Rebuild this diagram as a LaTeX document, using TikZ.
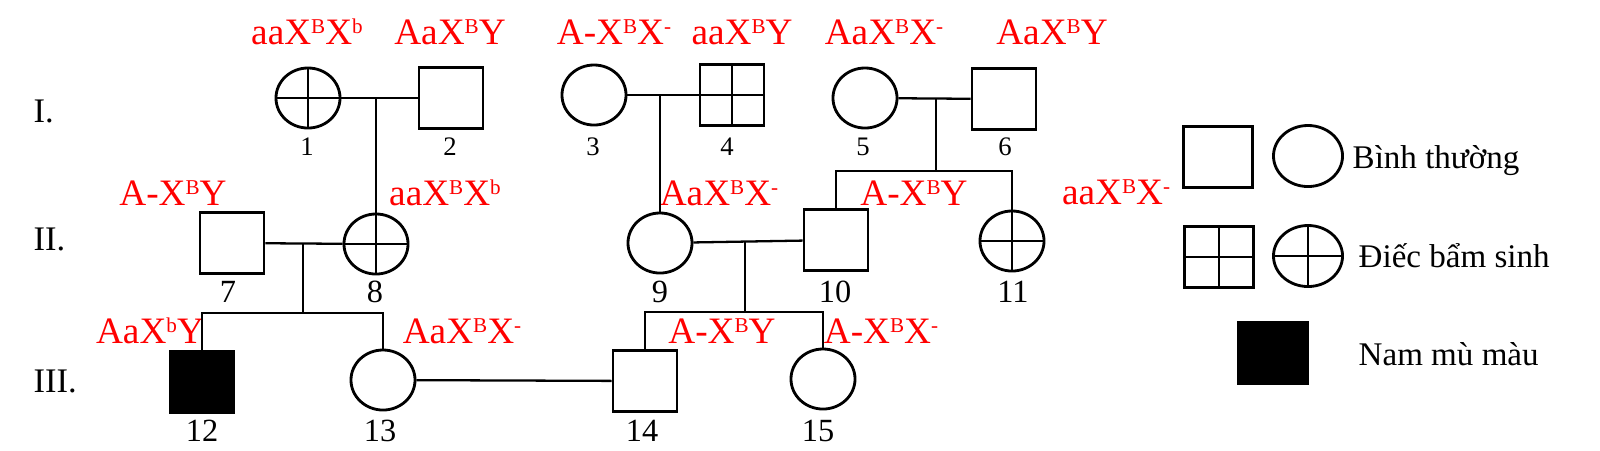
\documentclass[tikz,border=0pt]{standalone}
\usepackage{fontspec}
\setmainfont{Liberation Serif}
\usetikzlibrary{shapes.geometric}

\newcommand{\gsup}[1]{\raisebox{3.1pt}{\fontsize{6}{7}\selectfont #1}}

\begin{document}
\begin{tikzpicture}[x=0.01cm, y=-0.01cm,
    male/.style={draw, rectangle, line width=0.8pt, minimum width=0.64cm, minimum height=0.61cm, inner sep=0pt},
    female/.style={draw, ellipse, line width=0.8pt, minimum width=0.64cm, minimum height=0.60cm, inner sep=0pt},
    deaf/.style={path picture={\draw[line width=0.8pt] (path picture bounding box.north) -- (path picture bounding box.south) (path picture bounding box.west) -- (path picture bounding box.east);}},
    blind/.style={fill=black},
    big/.style={minimum width=0.69cm, minimum height=0.61cm},
    geno/.style={text=red, anchor=base, inner sep=0pt, font=\fontsize{10.6}{12}\selectfont},
    numI/.style={anchor=base, inner sep=0pt, font=\fontsize{7.6}{9}\selectfont},
    num/.style={anchor=base, inner sep=0pt, font=\fontsize{9.2}{11}\selectfont},
    gen/.style={anchor=base west, inner sep=0pt, font=\fontsize{9.8}{12}\selectfont},
    key/.style={anchor=base west, inner sep=0pt, font=\fontsize{9.4}{12}\selectfont},
    link/.style={line width=0.65pt}]
    \useasboundingbox (0, 0) rectangle (1600, 450);

    % Thế hệ
    \node[gen] (genI) at (33, 122) {I.};
    \node[gen] (genII) at (33, 250) {II.};
    \node[gen] (genIII) at (33, 392) {III.};

    % Thế hệ I
    \node[female, deaf] (p1) at (308, 98) {};
    \node[male] (p2) at (451, 98) {};
    \node[female] (p3) at (594, 95) {};
    \node[male, deaf] (p4) at (732, 95) {};
    \node[female] (p5) at (865, 98) {};
    \node[male] (p6) at (1004, 99) {};

    % Thế hệ II
    \node[male] (p7) at (232, 243) {};
    \node[female, deaf] (p8) at (376, 244) {};
    \node[female] (p9) at (660, 243) {};
    \node[male] (p10) at (836, 240) {};
    \node[female, deaf] (p11) at (1012, 241) {};

    % Thế hệ III
    \node[male, blind] (p12) at (202, 382) {};
    \node[female] (p13) at (383, 380) {};
    \node[male] (p14) at (645, 381) {};
    \node[female] (p15) at (823, 379) {};

    % Số thứ tự
    \node[numI] (n1) at (307, 155) {1};
    \node[numI] (n2) at (450, 155) {2};
    \node[numI] (n3) at (593, 155) {3};
    \node[numI] (n4) at (727, 155) {4};
    \node[numI] (n5) at (863, 155) {5};
    \node[numI] (n6) at (1005, 155) {6};
    \node[num] (n7) at (228, 302) {7};
    \node[num] (n8) at (375, 302) {8};
    \node[num] (n9) at (660, 302) {9};
    \node[num] (n10) at (835, 302) {10};
    \node[num] (n11) at (1013, 302) {11};
    \node[num] (n12) at (202, 441) {12};
    \node[num] (n13) at (380, 441) {13};
    \node[num] (n14) at (642, 441) {14};
    \node[num] (n15) at (818, 441) {15};

    % Kiểu gen
    \node[geno] (g1) at (307, 44) {aaX\gsup{B}X\gsup{b}};
    \node[geno] (g2) at (450, 44) {AaX\gsup{B}Y};
    \node[geno] (g3) at (614, 44) {A-X\gsup{B}X\gsup{-}};
    \node[geno] (g4) at (742, 44) {aaX\gsup{B}Y};
    \node[geno] (g5) at (884, 44) {AaX\gsup{B}X\gsup{-}};
    \node[geno] (g6) at (1052, 44) {AaX\gsup{B}Y};
    \node[geno] (g7) at (173, 205) {A-X\gsup{B}Y};
    \node[geno] (g8) at (445, 205) {aaX\gsup{B}X\gsup{b}};
    \node[geno] (g9) at (719, 205) {AaX\gsup{B}X\gsup{-}};
    \node[geno] (g10) at (914, 205) {A-X\gsup{B}Y};
    \node[geno] (g11) at (1116, 204) {aaX\gsup{B}X\gsup{-}};
    \node[geno] (g12) at (150, 343) {AaX\gsup{b}Y};
    \node[geno] (g13) at (462, 343) {AaX\gsup{B}X\gsup{-}};
    \node[geno] (g14) at (722, 343) {A-X\gsup{B}Y};
    \node[geno] (g15) at (881, 343) {A-X\gsup{B}X\gsup{-}};

    % Điểm nối
    \coordinate (m12) at (376, 98);
    \coordinate (m34) at (660, 95);
    \coordinate (m56) at (936, 98);
    \coordinate (s56) at (936, 171);
    \coordinate (m78) at (303, 243);
    \coordinate (s78) at (303, 313);
    \coordinate (m910) at (745, 241);
    \coordinate (s910) at (745, 312);

    % Hôn nhân và con cái
    \draw[link] (p1) -- (p2);
    \draw[link] (m12) -- (p8.north);
    \draw[link] (p3) -- (p4);
    \draw[link] (m34) -- (p9.north);
    \draw[link] (p5) -- (p6);
    \draw[link] (m56) -- (s56);
    \draw[link] (p10.north) |- (s56) -| (p11.north);
    \draw[link] (p7) -- (p8);
    \draw[link] (m78) -- (s78);
    \draw[link] (p12.north) |- (s78) -| (p13.north);
    \draw[link] (p9) -- (p10);
    \draw[link] (m910) -- (s910);
    \draw[link] (p14.north) |- (s910) -| (p15.north);
    \draw[link] (p13) -- (p14);

    % Chú thích
    \node[male, big] (k1) at (1218, 157) {};
    \node[female, big] (k2) at (1308, 156) {};
    \node[key] (t1) at (1352, 168) {Bình thường};
    \node[male, deaf, big] (k3) at (1219, 257) {};
    \node[female, deaf, big] (k4) at (1308, 256) {};
    \node[key] (t2) at (1358, 267) {Điếc bẩm sinh};
    \node[male, blind, big] (k5) at (1273, 353) {};
    \node[key] (t3) at (1358, 365) {Nam mù màu};
\end{tikzpicture}
\end{document}
